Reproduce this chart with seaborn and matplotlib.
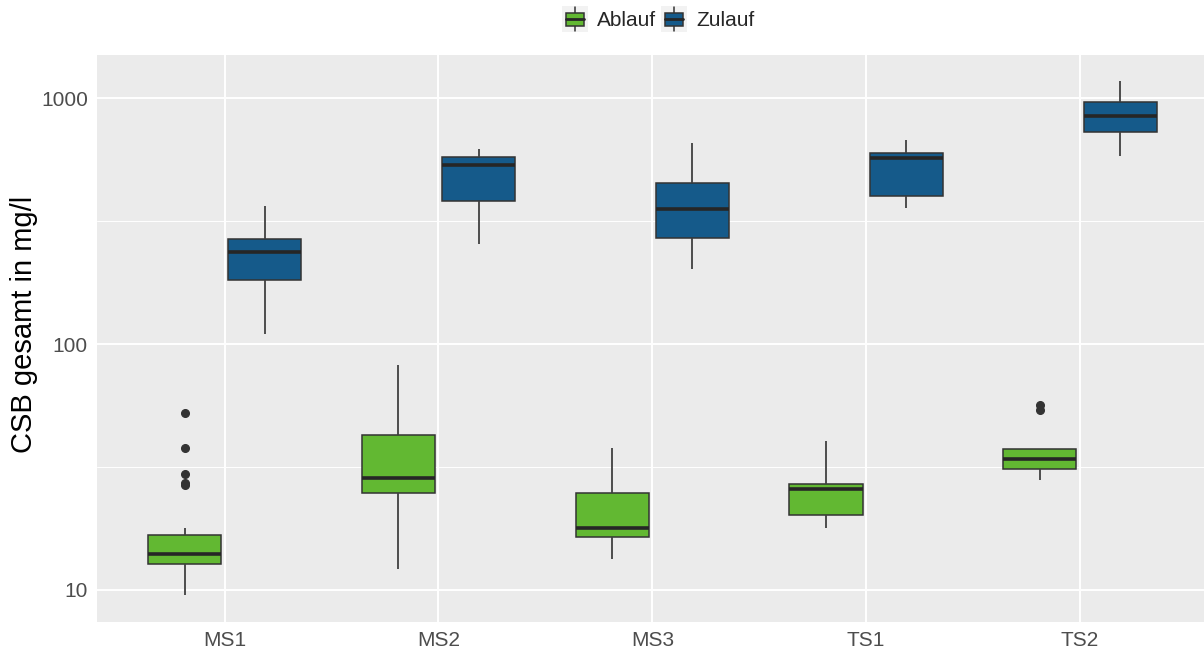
import numpy as np
import pandas as pd
import seaborn as sns
import matplotlib.pyplot as plt
import matplotlib.ticker as mticker
from matplotlib.legend_handler import HandlerBase
from matplotlib.patches import Rectangle
from matplotlib.lines import Line2D

# Sites and sampling points
sites = ["MS1", "MS2", "MS3", "TS1", "TS2"]
streams = ["Ablauf", "Zulauf"]

# Box statistics for CSB (mg/l): whisker ends, quartiles, median and outliers
ablauf_low = [9.5, 12.2, 13.4, 17.9, 28.0]
ablauf_q1 = [12.7, 24.8, 16.4, 20.1, 31.1]
ablauf_median = [14.0, 28.5, 17.9, 25.8, 34.0]
ablauf_q3 = [16.7, 42.7, 24.8, 26.9, 37.3]
ablauf_high = [17.8, 82.0, 37.8, 40.5, 37.3]
ablauf_outliers = [[26.7, 27.3, 29.5, 37.8, 52.2], [], [], [], [54.0, 56.5]]

zulauf_low = [110, 254, 202, 357, 581]
zulauf_q1 = [182, 380, 270, 400, 729]
zulauf_median = [237, 532, 354, 570, 845]
zulauf_q3 = [267, 574, 451, 597, 964]
zulauf_high = [364, 618, 656, 674, 1170]
zulauf_outliers = [[], [], [], [], []]

colors = {"Ablauf": "#62B832", "Zulauf": "#155A8A"}


def box_sample(low, q1, med, q3, high, outliers):
    """Observation set whose quartiles, whisker ends and outliers equal the given statistics."""
    m = len(outliers)
    k = m + 2
    vals = [low] + [q1] * k + [med] * k + [q3] * k + [high] * (k - m) + sorted(outliers)
    return vals


rows = []
stats = {
    "Ablauf": (ablauf_low, ablauf_q1, ablauf_median, ablauf_q3, ablauf_high, ablauf_outliers),
    "Zulauf": (zulauf_low, zulauf_q1, zulauf_median, zulauf_q3, zulauf_high, zulauf_outliers),
}
for stream, (lo, a, md, b, hi, out) in stats.items():
    for i, site in enumerate(sites):
        for v in box_sample(lo[i], a[i], md[i], b[i], hi[i], out[i]):
            rows.append({"site": site, "stream": stream, "value": v})
df = pd.DataFrame(rows)

sns.set_theme(style="darkgrid", rc={
    "axes.facecolor": "#EBEBEB",
    "grid.color": "white",
    "axes.edgecolor": "white",
})
plt.rcParams["font.family"] = ["Liberation Sans", "DejaVu Sans"]

fig, ax = plt.subplots(figsize=(12.04, 6.5), dpi=100)
fig.subplots_adjust(left=97 / 1204, right=1.0, bottom=1 - 622 / 650, top=1 - 55 / 650)

sns.boxplot(
    data=df, x="site", y="value", hue="stream",
    order=sites, hue_order=streams, palette=colors, saturation=1,
    log_scale=(False, True), width=0.75, gap=0.088,
    linewidth=1.1, linecolor="#333333", showcaps=False,
    fliersize=5.5,
    flierprops=dict(marker="o", markerfacecolor="#333333", markeredgecolor="#333333"),
    medianprops=dict(color="#262626", linewidth=2.6),
    whiskerprops=dict(color="#404040", linewidth=1.3),
    legend=False, ax=ax,
)

ax.set_ylim(7.41, 1496)
ax.set_xlim(-0.597, 4.58)
ax.yaxis.set_major_locator(mticker.FixedLocator([10, 100, 1000]))
ax.yaxis.set_major_formatter(mticker.FixedFormatter(["10", "100", "1000"]))
ax.yaxis.set_minor_locator(mticker.FixedLocator([10 ** 1.5, 10 ** 2.5]))
ax.yaxis.set_minor_formatter(mticker.NullFormatter())
ax.grid(which="major", color="white", linewidth=1.4)
ax.grid(which="minor", axis="y", color="white", linewidth=0.7)
ax.set_axisbelow(True)
for s in ax.spines.values():
    s.set_visible(False)

ax.tick_params(axis="both", which="major", length=3.5, width=1, color="#333333",
               labelsize=15, labelcolor="#4D4D4D", pad=3)
ax.tick_params(axis="y", which="minor", length=0)
ax.set_xlabel("")
ax.set_ylabel("CSB gesamt in mg/l", fontsize=21, color="black")
ax.yaxis.set_label_coords(-0.053, 0.5256)


class BoxKey(HandlerBase):
    def create_artists(self, legend, orig_handle, xdescent, ydescent, width, height, fontsize, trans):
        x0, y0 = -xdescent, -ydescent
        cx = x0 + width / 2
        bg = Rectangle((x0, y0 - height * 0.2), width, height * 1.4, facecolor="#F2F2F2",
                       edgecolor="none", transform=trans)
        whisk = Line2D([cx, cx], [y0 - height * 0.15, y0 + height * 1.15], color="#333333",
                       linewidth=1.1, transform=trans)
        box = Rectangle((x0 + width * 0.15, y0 + height * 0.15), width * 0.7, height * 0.7,
                        facecolor=orig_handle.get_facecolor(), edgecolor="#333333",
                        linewidth=1.1, transform=trans)
        med = Line2D([x0 + width * 0.15, x0 + width * 0.85], [y0 + height * 0.5] * 2,
                     color="#262626", linewidth=2.0, transform=trans)
        return [bg, whisk, box, med]


handles = [Rectangle((0, 0), 1, 1, facecolor=colors[s]) for s in streams]
fig.legend(handles, streams, handler_map={Rectangle: BoxKey()},
           loc="center", bbox_to_anchor=(658 / 1204, 1 - 20 / 650), ncol=2,
           frameon=False, fontsize=15, handlelength=1.25, handleheight=1.0,
           handletextpad=0.45, columnspacing=0.21, borderpad=0, borderaxespad=0)

fig.savefig("out.png", dpi=100, facecolor="white")
